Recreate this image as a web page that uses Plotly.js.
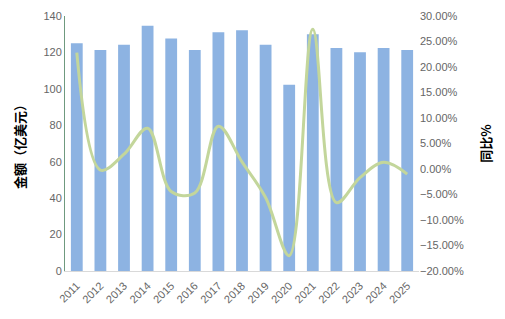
<!DOCTYPE html>
<html>
<head>
<meta charset="utf-8">
<script src="https://cdn.plot.ly/plotly-3.0.1.min.js"></script>
<style>html,body{margin:0;padding:0;background:#fff;}#chart{width:505px;height:319px;}</style>
</head>
<body>
<div id="chart"></div>
<script>
const years = ['2011','2012','2013','2014','2015','2016','2017','2018','2019','2020','2021','2022','2023','2024','2025'];
const amounts = [125.1, 121.4, 124.2, 134.6, 127.6, 121.4, 131.1, 132.2, 124.2, 102.2, 130.0, 122.4, 120.1, 122.4, 121.3];
const yoy = [0.228, -0.002, 0.029, 0.080, -0.044, -0.047, 0.084, 0.014, -0.056, -0.170, 0.274, -0.066, -0.017, 0.013, -0.010];

const tickFont = {family: 'Liberation Sans, Arial, sans-serif', size: 11, color: '#666666'};

const data = [
  {type: 'bar', x: years, y: amounts, marker: {color: '#8db3e2'}, yaxis: 'y', hoverinfo: 'none'},
  {type: 'scatter', mode: 'lines', x: years, y: yoy, yaxis: 'y2',
   line: {color: '#c3d69b', width: 3, shape: 'spline', smoothing: 1}, hoverinfo: 'none'}
];

const layout = {
  width: 505, height: 319,
  margin: {l: 65, r: 86, t: 16, b: 48},
  paper_bgcolor: '#fff', plot_bgcolor: '#fff',
  showlegend: false,
  bargap: 0.5,
  xaxis: {type: 'category', tickangle: -45, tickfont: tickFont, showgrid: false,
          showline: true, linecolor: '#d9d9d9', linewidth: 1, ticks: 'outside', ticklen: 3, tickcolor: 'rgba(0,0,0,0)', zeroline: false},
  yaxis: {range: [0, 140], dtick: 20, tickfont: tickFont, showgrid: false, zeroline: false,
          showline: true, linecolor: '#6f9a7f', linewidth: 1, ticks: '',
          title: {text: '金额（亿美元）', font: {family: 'Noto Sans CJK SC, sans-serif', size: 13, color: '#000', weight: 'bold'}, standoff: 14}},
  yaxis2: {overlaying: 'y', side: 'right', range: [-0.2, 0.3], dtick: 0.05, tickformat: '.2%',
           tickfont: tickFont, showgrid: false, zeroline: false, showline: false, ticks: '',
           title: {text: '同比%', font: {family: 'Noto Sans CJK SC, sans-serif', size: 13, color: '#000', weight: 'bold'}, standoff: 18}}
};

Plotly.newPlot('chart', data, layout, {displayModeBar: false, staticPlot: true});
</script>
</body>
</html>
